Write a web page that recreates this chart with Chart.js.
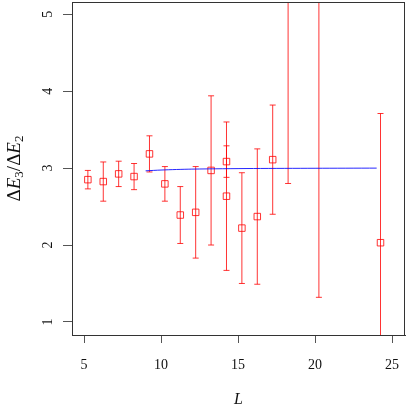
<!DOCTYPE html>
<html>
<head>
<meta charset="utf-8">
<script src="https://cdn.jsdelivr.net/npm/chart.js@4.4.0/dist/chart.umd.min.js"></script>
<style>
  html, body { margin: 0; padding: 0; background: #fff; }
  #wrap { width: 407px; height: 407px; }
</style>
</head>
<body>
<div id="wrap"><canvas id="chart" width="407" height="407"></canvas></div>
<script>
// measured ratios with symmetric errors
var sizes = [5.25, 6.25, 7.25, 8.25, 9.25, 10.25, 11.25, 12.25, 13.25, 14.25, 14.25, 15.25, 16.25, 17.25, 18.25, 20.25, 24.25];
var ratios = [2.85, 2.825, 2.925, 2.89, 3.185, 2.795, 2.39, 2.425, 2.97, 3.085, 2.635, 2.22, 2.37, 3.11, 6.5, 9.0, 2.03];
var errors = [0.12, 0.255, 0.165, 0.17, 0.235, 0.225, 0.37, 0.595, 0.97, 0.205, 0.965, 0.72, 0.88, 0.71, 3.7, 7.68, 1.68];

// fitted curve
var fitSizes = [9, 10, 11, 12, 14, 16, 20, 24];
var fitRatios = [2.965, 2.975, 2.982, 2.987, 2.992, 2.995, 2.998, 3.0];

var xTicks = [5, 10, 15, 20, 25];
var yTicks = [1, 2, 3, 4, 5];

var red = 'rgba(255, 0, 0, 0.8)';
var serif = '"Liberation Serif", "DejaVu Serif", serif';

var points = sizes.map(function(l, i) { return { x: l, y: ratios[i] }; });
var fit = fitSizes.map(function(l, i) { return { x: l, y: fitRatios[i] }; });

// error bars, frame and axis text drawn with the chart's own scales
var extras = {
  id: 'extras',
  beforeDatasetsDraw: function(chart) {
    var ctx = chart.ctx, a = chart.chartArea;
    var xs = chart.scales.x, ys = chart.scales.y;
    ctx.save();
    ctx.beginPath();
    ctx.rect(a.left, a.top, a.right - a.left, a.bottom - a.top);
    ctx.clip();
    ctx.strokeStyle = red;
    ctx.lineWidth = 1;
    sizes.forEach(function(l, i) {
      var px = xs.getPixelForValue(l);
      var lo = ys.getPixelForValue(ratios[i] - errors[i]);
      var hi = ys.getPixelForValue(ratios[i] + errors[i]);
      ctx.beginPath();
      ctx.moveTo(px, lo); ctx.lineTo(px, hi);
      ctx.moveTo(px - 3, lo); ctx.lineTo(px + 3, lo);
      ctx.moveTo(px - 3, hi); ctx.lineTo(px + 3, hi);
      ctx.stroke();
    });
    ctx.restore();
  },
  afterDraw: function(chart) {
    var ctx = chart.ctx, a = chart.chartArea;
    var xs = chart.scales.x, ys = chart.scales.y;
    ctx.save();
    ctx.strokeStyle = '#333';
    ctx.lineWidth = 1;
    ctx.strokeRect(a.left + 0.5, a.top + 0.5, a.right - a.left - 1, a.bottom - a.top);

    ctx.fillStyle = '#111';
    ctx.font = '14px ' + serif;
    ctx.textAlign = 'center';
    ctx.textBaseline = 'middle';
    xTicks.forEach(function(v) {
      ctx.fillText(String(v), xs.getPixelForValue(v), a.bottom + 30);
    });
    yTicks.forEach(function(v) {
      ctx.save();
      ctx.translate(a.left - 24, ys.getPixelForValue(v));
      ctx.rotate(-Math.PI / 2);
      ctx.fillText(String(v), 0, 0);
      ctx.restore();
    });

    // x title
    ctx.font = 'italic 16px ' + serif;
    ctx.fillText('L', (a.left + a.right) / 2, a.bottom + 65);

    // y title: ΔE3/ΔE2 with subscripts
    ctx.save();
    ctx.translate(15, (a.top + a.bottom) / 2);
    ctx.rotate(-Math.PI / 2);
    var parts = [
      ['Δ', '19px ', 0], ['E', 'italic 19px ', 0], ['3', '13px ', 5],
      ['/', '19px ', 0], ['Δ', '19px ', 0], ['E', 'italic 19px ', 0], ['2', '13px ', 5]
    ];
    var total = 0;
    parts.forEach(function(p) { ctx.font = p[1] + serif; total += ctx.measureText(p[0]).width; });
    var cx = -total / 2;
    ctx.textAlign = 'left';
    parts.forEach(function(p) {
      ctx.font = p[1] + serif;
      ctx.fillText(p[0], cx, p[2]);
      cx += ctx.measureText(p[0]).width;
    });
    ctx.restore();
    ctx.restore();
  }
};

var chart = new Chart(document.getElementById('chart'), {
  type: 'scatter',
  data: {
    datasets: [{
      label: 'fit',
      type: 'line',
      data: fit,
      borderColor: 'rgba(0, 0, 255, 0.85)',
      borderWidth: 1,
      pointRadius: 0,
      tension: 0.3,
      fill: false
    }, {
      label: 'ratio',
      data: points,
      pointStyle: 'rect',
      pointRadius: 4.6,
      borderWidth: 1,
      borderColor: red,
      backgroundColor: 'rgba(0,0,0,0)'
    }]
  },
  options: {
    responsive: false,
    animation: false,
    events: [],
    layout: { autoPadding: false, padding: { top: 2, right: 2, left: 0, bottom: 0 } },
    plugins: { legend: { display: false }, tooltip: { enabled: false } },
    scales: {
      x: {
        type: 'linear',
        min: 4.22,
        max: 25.84,
        afterBuildTicks: function(s) { s.ticks = xTicks.map(function(v) { return { value: v }; }); },
        afterFit: function(s) { s.height = 72; },
        ticks: { display: false },
        grid: { drawOnChartArea: false, drawTicks: true, tickLength: 8, color: '#555' },
        border: { display: true, color: '#333' }
      },
      y: {
        type: 'linear',
        min: 0.83,
        max: 5.16,
        afterBuildTicks: function(s) { s.ticks = yTicks.map(function(v) { return { value: v }; }); },
        afterFit: function(s) { s.width = 72; },
        ticks: { display: false },
        grid: { drawOnChartArea: false, drawTicks: true, tickLength: 9, color: '#555' },
        border: { display: true, color: '#333' }
      }
    }
  },
  plugins: [extras]
});
</script>
</body>
</html>
